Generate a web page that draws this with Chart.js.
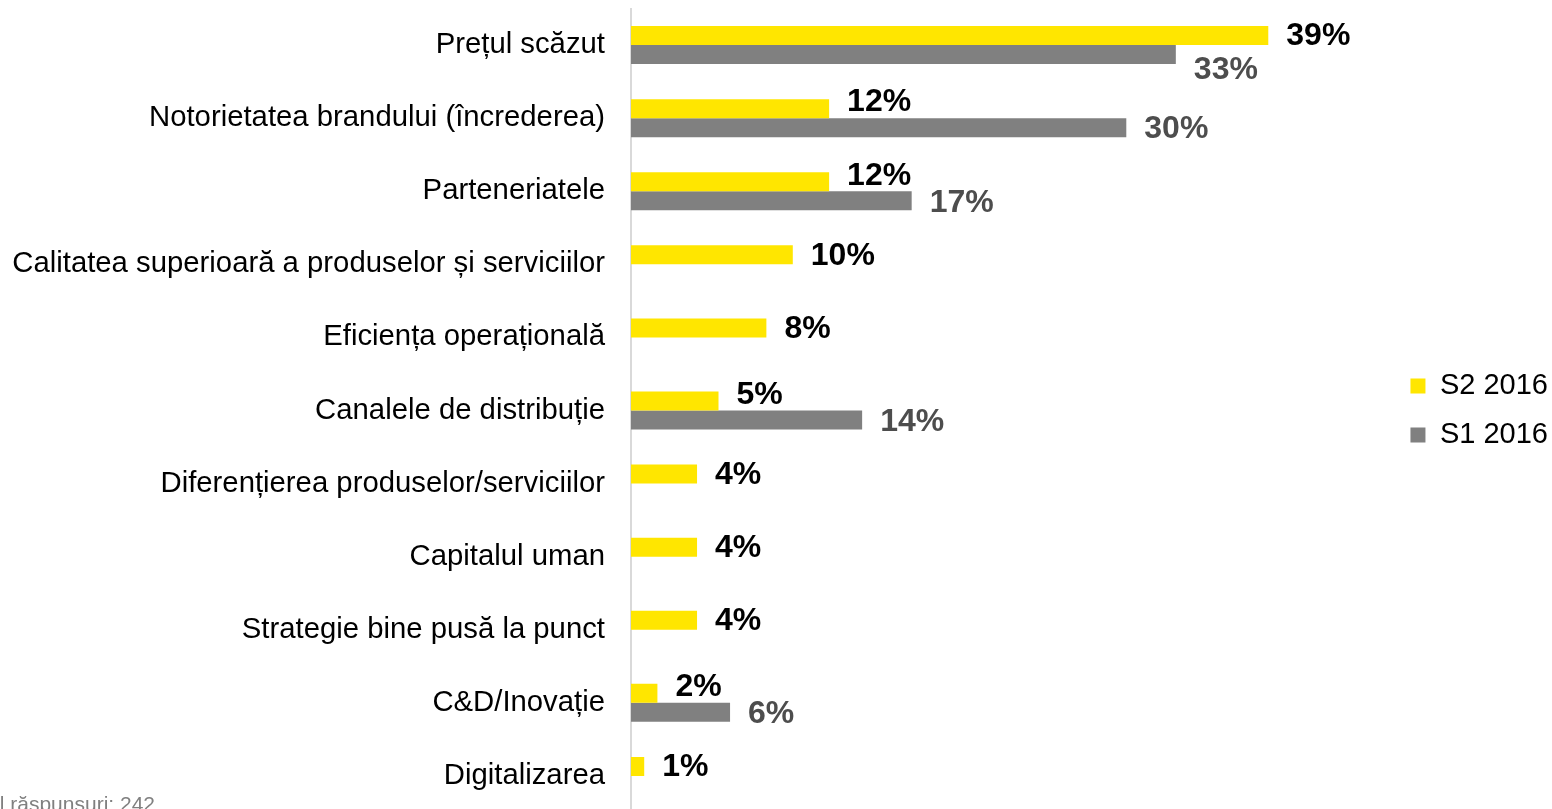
<!DOCTYPE html>
<html>
<head>
<meta charset="utf-8">
<script src="https://cdn.jsdelivr.net/npm/chart.js@4.4.1/dist/chart.umd.min.js"></script>
<style>
html,body{margin:0;padding:0;overflow:hidden;background:#fff}
#wrap{width:1552px;height:813px;position:relative}
</style>
</head>
<body>
<div id="wrap"><canvas id="bar-chart"></canvas></div>
<script>
// data (percent)
var categories = ['Prețul scăzut','Notorietatea brandului (încrederea)','Parteneriatele',
  'Calitatea superioară a produselor și serviciilor','Eficiența operațională',
  'Canalele de distribuție','Diferențierea produselor/serviciilor','Capitalul uman',
  'Strategie bine pusă la punct','C&D/Inovație','Digitalizarea'];
var seriesNames = ['S2 2016','S1 2016'];
var s2 = [38.6,12,12,9.8,8.2,5.3,4,4,4,1.6,0.8];
var s1 = [33,30,17,null,null,14,null,null,null,6,null];
var footnote = 'Total răspunsuri: 242';

var font = "'Liberation Sans', Arial, sans-serif";

// value labels at the end of each bar
var valueLabels = {
  id: 'valueLabels',
  afterDatasetsDraw: function(chart){
    var ctx = chart.ctx;
    ctx.save();
    ctx.textAlign = 'left';
    ctx.textBaseline = 'middle';
    chart.data.datasets.forEach(function(ds, di){
      var meta = chart.getDatasetMeta(di);
      ctx.fillStyle = di == 0 ? '#000000' : '#4d4d4d';
      ctx.font = 'bold 32px ' + font;
      meta.data.forEach(function(bar, i){
        var v = ds.data[i];
        if (v == null) return;
        var dy = 1;
        // yellow label sits a bit higher when a grey bar is below it,
        // grey label drops under the yellow bar when that one is longer
        if (di == 0 && s1[i] != null) dy = s2[i] > s1[i] ? 1 : -6;
        if (di == 1) dy = s2[i] > v ? 16 : 2;
        ctx.fillText(Math.round(v) + '%', bar.x + 18, bar.y + dy);
      });
    });
    ctx.restore();
  }
};

var footer = {
  id: 'footer',
  afterDraw: function(chart){
    var ctx = chart.ctx;
    ctx.save();
    ctx.font = '21px ' + font;
    ctx.fillStyle = '#808080';
    ctx.textAlign = 'right';
    ctx.textBaseline = 'alphabetic';
    ctx.fillText(footnote, 155, 811);
    ctx.restore();
  }
};

new Chart(document.getElementById('bar-chart'), {
  type: 'bar',
  data: {
    labels: categories,
    datasets: [
      { label: seriesNames[0], data: s2, backgroundColor: '#FFE600' },
      { label: seriesNames[1], data: s1, backgroundColor: '#808080' }
    ]
  },
  options: {
    indexAxis: 'y',
    responsive: true,
    maintainAspectRatio: false,
    animation: false,
    layout: { padding: { top: 8.5, bottom: 0.5, left: 0, right: -6 } },
    datasets: { bar: { categoryPercentage: 0.52, barPercentage: 1 } },
    scales: {
      x: { display: false, min: 0, max: 46 },
      y: {
        border: { display: true, color: '#d9d9d9', width: 2 },
        grid: { display: false, drawTicks: false },
        ticks: { color: '#000', font: { size: 29.3, family: font }, padding: 26 },
        afterFit: function(s){ s.width = 631; s.paddingTop = 0; s.paddingBottom = 0; }
      }
    },
    plugins: {
      tooltip: { enabled: false },
      legend: {
        position: 'right',
        labels: {
          boxWidth: 15, boxHeight: 15, padding: 20, color: '#000',
          font: { size: 29, family: font }
        }
      }
    }
  },
  plugins: [valueLabels, footer]
});
</script>
</body>
</html>
